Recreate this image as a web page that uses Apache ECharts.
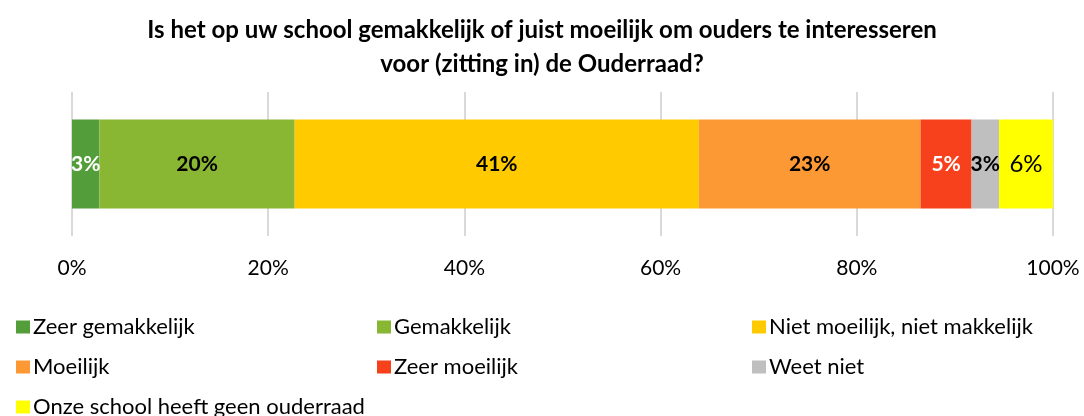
<!DOCTYPE html>
<html>
<head>
<meta charset="utf-8">
<script src="https://cdn.jsdelivr.net/npm/echarts@6/dist/echarts.min.js"></script>
<style>
  html, body { margin: 0; padding: 0; background: #fff; }
  #myChart { width: 1084px; height: 416px; }
</style>
</head>
<body>
<div id="myChart"></div>
<script>
  // data
  var categories = [''];
  var seriesNames = ['Zeer gemakkelijk', 'Gemakkelijk', 'Niet moeilijk, niet makkelijk', 'Moeilijk', 'Zeer moeilijk', 'Weet niet', 'Onze school heeft geen ouderraad'];
  var seriesValues = [2.8, 19.9, 41.2, 22.6, 5.2, 2.8, 5.5];
  var tickLabels = ['0%', '20%', '40%', '60%', '80%', '100%'];

  // styles
  var colors = ['#539E3A', '#8AB733', '#FFCB00', '#FD9935', '#F7411D', '#BFBFBF', '#FFFF00'];
  var labelColors = ['#fff', '#000', '#000', '#000', '#fff', '#000', '#000'];
  var labelWeights = ['bold', 'bold', 'bold', 'bold', 'bold', 'bold', 'normal'];
  var labelSizes = [21, 21, 21, 21, 21, 21, 24];

  var font = 'Lato, "Open Sans", sans-serif';
  var myChart = echarts.init(document.getElementById('myChart'));

  var series = seriesNames.map(function (name, i) {
    return {
      name: name,
      type: 'bar',
      stack: 'total',
      animation: false,
      barWidth: 89,
      itemStyle: { color: colors[i] },
      label: {
        show: true,
        position: 'inside',
        color: labelColors[i],
        fontWeight: labelWeights[i],
        fontFamily: font,
        fontSize: labelSizes[i],
        formatter: function (p) { return Math.round(p.value) + '%'; }
      },
      data: [seriesValues[i]]
    };
  });

  // legend in 3 columns, 3 rows (Excel order)
  var colX = [16, 377, 752];
  var rowY = [316, 356, 396];
  var legends = seriesNames.map(function (name, i) {
    return {
      left: colX[i % 3],
      top: rowY[Math.floor(i / 3)],
      padding: 0,
      itemWidth: 14,
      itemHeight: 13,
      itemGap: 0,
      icon: 'rect',
      textStyle: { fontFamily: font, fontSize: 22, color: '#000', padding: [0, 0, 0, -2] },
      data: [name]
    };
  });

  var option = {
    title: {
      text: 'Is het op uw school gemakkelijk of juist moeilijk om ouders te interesseren\nvoor (zitting in) de Ouderraad?',
      left: 'center',
      top: 8,
      textStyle: { fontFamily: font, fontSize: 24, fontWeight: 'bold', color: '#000', lineHeight: 34 }
    },
    legend: legends,
    grid: { left: 72, right: 31, top: 92, bottom: 180, containLabel: false },
    xAxis: {
      type: 'value',
      min: 0,
      max: 100,
      interval: 20,
      axisLine: { show: false },
      axisTick: { show: false },
      axisLabel: {
        fontFamily: font, fontSize: 21, color: '#000', margin: 22,
        formatter: function (v) { return tickLabels[v / 20]; }
      },
      splitLine: { show: true, lineStyle: { color: '#D9D9D9', width: 2 } }
    },
    yAxis: {
      type: 'category',
      data: categories,
      axisLine: { show: false },
      axisTick: { show: false },
      axisLabel: { show: false }
    },
    series: series
  };

  myChart.setOption(option);
</script>
</body>
</html>
